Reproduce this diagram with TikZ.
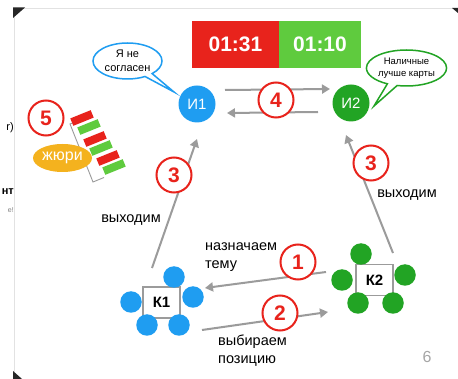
\documentclass[tikz,border=0pt]{standalone}
\usepackage{fontspec}
\setmainfont{Liberation Sans}
\usetikzlibrary{arrows.meta,shapes.geometric,shapes.callouts,calc}
\definecolor{cred}{HTML}{E8231C}
\definecolor{cgreen}{HTML}{5FCB3E}
\definecolor{cdgreen}{HTML}{22A424}
\definecolor{cblue}{HTML}{1F9DF1}
\definecolor{corange}{HTML}{F4B21E}
\definecolor{cgray}{HTML}{9B9B9B}
\definecolor{cframe}{HTML}{E2E2E2}
\begin{document}
\begin{tikzpicture}[x=1pt,y=-1pt,
  numc/.style={circle, draw=cred, line width=2pt, fill=white, minimum size=35pt, inner sep=0pt, text=cred, font=\bfseries\fontsize{21}{21}\selectfont},
  conn/.style={draw=cgray, line width=2pt, -{Triangle[length=8pt,width=9pt]}},
  member/.style={circle, minimum size=21.5pt, inner sep=0pt},
  kbox/.style={draw=cgray, line width=1.2pt, fill=white, minimum width=37pt, minimum height=31pt, inner sep=0pt, font=\bfseries\fontsize{15}{15}\selectfont},
  player/.style={circle, minimum size=37pt, inner sep=0pt, text=white, font=\fontsize{15}{15}\selectfont},
  bubble/.style={ellipse callout, fill=white, line width=1.5pt, align=center, inner sep=0pt},
  timer/.style={minimum height=47pt, inner sep=0pt, text=white, font=\bfseries\fontsize{21}{21}\selectfont},
  lbl/.style={font=\fontsize{14.5}{18}\selectfont, align=left, inner sep=0pt},
  bar/.style={minimum width=22pt, minimum height=8pt, inner sep=0pt, rotate=22}
]
\useasboundingbox[fill=white] (0,0) rectangle (458,379);

% slide frame and fragments of neighbouring slide
\draw[cframe, line width=0.8pt] (14,379) -- (14,8) -- (456,8);
\fill[black!85] (13,7.5) -- (25,7.5) -- (13,18) -- cycle;
\fill[black!85] (452,8) -- (458,8) -- (458,13) -- cycle;
\fill[black!85] (13,371) -- (13,379) -- (22,379) -- cycle;
\node[anchor=east, inner sep=0pt, font=\fontsize{11}{11}\selectfont] (fr1) at (14,128) {r)};
\node[anchor=east, inner sep=0pt, font=\bfseries\fontsize{11}{11}\selectfont] (fr2) at (14,192) {нт};
\node[anchor=east, inner sep=0pt, text=black!50, font=\fontsize{7}{7}\selectfont] (fr3) at (14,210) {e!};

% timers
\node[timer, fill=cred, minimum width=87pt] (t1) at (235.5,44.5) {01:31};
\node[timer, fill=cgreen, minimum width=82pt] (t2) at (320,44.5) {01:10};

% players
\node[player, fill=cblue] (i1) at (197,104) {И1};
\node[player, fill=cdgreen] (i2) at (351,103) {И2};

% speech bubbles
\node[bubble, draw=cblue, minimum width=69pt, minimum height=36pt, callout absolute pointer={(174,92)}, font=\fontsize{11}{13.5}\selectfont] (b1) at (127.5,61) {Я не\\согласен};
\node[bubble, draw=cdgreen, minimum width=71pt, minimum height=36pt, callout absolute pointer={(374,106)}, font=\fontsize{9.5}{12.5}\selectfont] (b2) at (406.5,68) {Наличные\\лучше карты};

% commands
\node[kbox] (k1) at (161.5,302.5) {К1};
\node[member, fill=cblue] (k1a) at (174,277) {};
\node[member, fill=cblue] (k1b) at (193,297) {};
\node[member, fill=cblue] (k1c) at (131,302) {};
\node[member, fill=cblue] (k1d) at (147,325) {};
\node[member, fill=cblue] (k1e) at (179,325) {};

\node[kbox] (k2) at (374.5,280) {К2};
\node[member, fill=cdgreen] (k2a) at (361,254) {};
\node[member, fill=cdgreen] (k2b) at (342,280) {};
\node[member, fill=cdgreen] (k2c) at (405,275) {};
\node[member, fill=cdgreen] (k2d) at (358,303) {};
\node[member, fill=cdgreen] (k2e) at (393,303) {};

% connector end points
\coordinate (c3as) at (152,268);
\coordinate (c3ae) at (197,139);
\coordinate (c3bs) at (393,253);
\coordinate (c3be) at (346,135);
\coordinate (c1s) at (326,272);
\coordinate (c1e) at (205,288);
\coordinate (c2s) at (202,330);
\coordinate (c2e) at (328,312);

% connectors
\draw[conn] ($(i1.center)+(28,-14)$) -- ($(i2.center)+(-21,-14)$);
\draw[conn] ($(i2.center)+(-33,9)$) -- ($(i1.center)+(30,9)$);
\draw[conn] (c3as) -- (c3ae);
\draw[conn] (c3bs) -- (c3be);
\draw[conn] (c1s) -- (c1e);
\draw[conn] (c2s) -- (c2e);

% number circles
\node[numc] (n4) at (276,100) {4};
\node[numc] (n3a) at (174,175) {3};
\node[numc] (n3b) at (371,163) {3};
\node[numc] (n1) at (298,262) {1};
\node[numc] (n2) at (280,313) {2};
\node[numc] (n5) at (46,118) {5};

% labels
\node[lbl, anchor=center] (l1) at (131,220) {выходим};
\node[lbl, anchor=center] (l2) at (407,195) {выходим};
\node[lbl, anchor=west] (l3) at (205,257) {назначаем\\тему};
\node[lbl, anchor=west] (l4) at (218,351) {выбираем\\позицию};
\node[inner sep=0pt, text=black!35, font=\fontsize{16}{16}\selectfont] (pg) at (427,357) {6};

% jury
\draw[cgray, line width=0.9pt] (80,120) -- (70,124) -- (93,182) -- (104,177.5);
\node[bar, fill=cred] (r1) at (82,118) {};
\node[bar, fill=cgreen] (g1) at (89,127) {};
\node[bar, fill=cred] (r2) at (95,139) {};
\node[bar, fill=cgreen] (g2) at (101,148) {};
\node[bar, fill=cred] (r3) at (108,158) {};
\node[bar, fill=cgreen] (g3) at (114,167) {};
\node[ellipse, fill=corange, minimum width=59pt, minimum height=28pt, inner sep=0pt, text=white, font=\fontsize{16}{16}\selectfont] (jury) at (62.5,158) {жюри};
\end{tikzpicture}
\end{document}
